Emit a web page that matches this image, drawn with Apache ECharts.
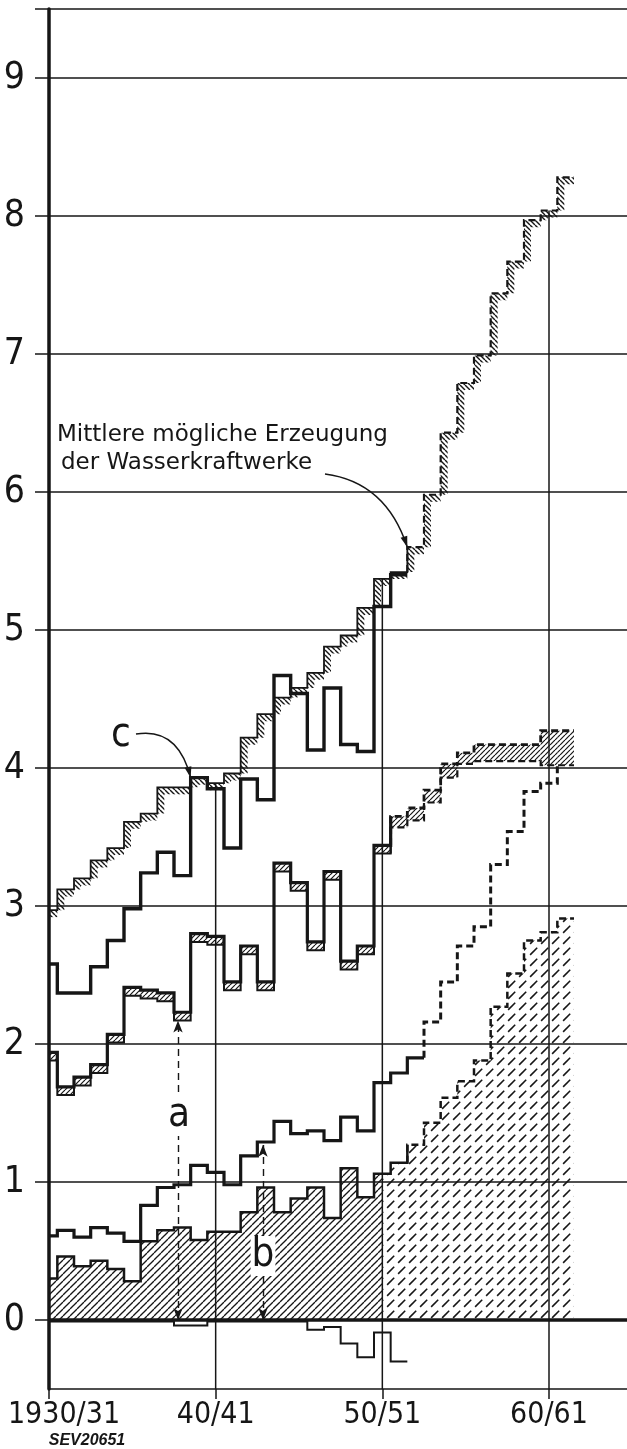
<!DOCTYPE html>
<html><head><meta charset="utf-8">
<script src="https://cdn.jsdelivr.net/npm/echarts@6/dist/echarts.min.js"></script>
<style>html,body{margin:0;padding:0;background:#fff}#c{width:627px;height:1449px}</style>
</head><body><div id="c"></div>
<script>
// index i = hydrological year 1930/31 + i (value holds from i-0.5 to i+0.5)
const xTickValues = [0, 10, 20, 30];
const xTickLabels = ['1930/31', '40/41', '50/51', '60/61'];
const yTickValues = [0, 1, 2, 3, 4, 5, 6, 7, 8, 9];
const yTickLabels = ['0', '1', '2', '3', '4', '5', '6', '7', '8', '9'];

// Mittlere mögliche Erzeugung der Wasserkraftwerke (upper hatched staircase)
const upperH = [2.97,3.12,3.20,3.33,3.42,3.61,3.67,3.86,3.86,3.93,3.89,3.96,4.22,4.39,4.51,4.58,4.69,4.88,4.96,5.16,5.37,5.42,5.60,5.98,6.43,6.79,6.99,7.44,7.67,7.97,8.04,8.28];
// curve c
const curveC = [2.58,2.37,2.37,2.56,2.75,2.98,3.24,3.39,3.22,3.93,3.85,3.42,3.92,3.77,4.67,4.54,4.13,4.58,4.17,4.12,5.17,5.40];
// middle curve (top and bottom of the small hatched band)
const midTop = [1.94,1.69,1.76,1.85,2.07,2.41,2.39,2.37,2.23,2.80,2.78,2.45,2.71,2.45,3.31,3.17,2.74,3.25,2.60,2.71,3.44,3.65,3.71,3.84,4.03,4.11,4.17,4.17,4.17,4.17,4.27,4.27];
const midBot = [1.88,1.63,1.70,1.79,2.01,2.35,2.33,2.31,2.17,2.74,2.72,2.39,2.65,2.39,3.25,3.11,2.68,3.19,2.54,2.65,3.38,3.57,3.62,3.75,3.93,4.03,4.05,4.05,4.05,4.05,4.02,4.02];
// lower line (solid, later dashed)
const lowerL = [0.61,0.65,0.60,0.67,0.63,0.57,0.83,0.96,0.98,1.12,1.07,0.98,1.19,1.29,1.44,1.35,1.37,1.30,1.47,1.37,1.72,1.79,1.90,2.16,2.45,2.71,2.85,3.30,3.54,3.83,3.89,4.02];
// hatched area from zero
const areaB = [0.30,0.46,0.39,0.43,0.37,0.28,0.57,0.65,0.67,0.58,0.64,0.64,0.78,0.96,0.78,0.88,0.96,0.74,1.10,0.89,1.06,1.14,1.27,1.43,1.61,1.73,1.88,2.27,2.51,2.75,2.81,2.91];
// negative line below zero
const negN = [-0.01,-0.01,-0.01,-0.01,-0.01,-0.01,-0.01,-0.01,-0.04,-0.04,-0.01,-0.01,-0.01,-0.01,-0.01,-0.01,-0.07,-0.05,-0.17,-0.27,-0.09,-0.30];

const INK = '#161616';
const LAB = '"DejaVu Sans Condensed","DejaVu Sans",sans-serif';
const ANN = '"DejaVu Sans",sans-serif';

function hatch(size, dir, lw, dash) {
  const cv = document.createElement('canvas');
  cv.width = cv.height = size;
  const g = cv.getContext('2d');
  g.strokeStyle = INK; g.lineWidth = lw;
  const ks = dash ? [0] : [-1, 0, 1];
  if (dash) { g.setLineDash(dash); g.lineDashOffset = -3; }
  ks.forEach(k => {
    g.beginPath();
    if (dir === '/') { g.moveTo(k * size, size); g.lineTo(k * size + size, 0); }
    else { g.moveTo(k * size, 0); g.lineTo(k * size + size, size); }
    g.stroke();
  });
  return { image: cv, repeat: 'repeat' };
}
const patSolid = hatch(7, '/', 1.3);
const patDash = hatch(11, '/', 1.6, [10, 5.56]);
const patBand = hatch(5, '\\', 1.4);
const patBox = hatch(5, '/', 1.2);

function steps(vals, x0, x1, startRiser, endRiser) {
  const out = []; let last = -1, lastB = 0;
  for (let i = 0; i < vals.length; i++) {
    const a = Math.max(i - 0.5, x0), b = Math.min(i + 0.5, x1);
    if (b <= a) continue;
    if (!out.length && startRiser && i > 0 && Math.abs(a - (i - 0.5)) < 1e-9) out.push([a, vals[i - 1]]);
    out.push([a, vals[i]], [b, vals[i]]);
    last = i; lastB = b;
  }
  if (endRiser && last + 1 < vals.length && Math.abs(lastB - (last + 0.5)) < 1e-9) out.push([lastB, vals[last + 1]]);
  return out;
}

function lineS(data, width, dashed, z) {
  return { type: 'line', data, symbol: 'none', silent: true, z: z || 5,
    lineStyle: { color: INK, width, type: dashed ? [7, 4] : 'solid', cap: 'butt', join: 'miter' } };
}
function areaS(data, pat) {
  return { type: 'line', data, symbol: 'none', silent: true, z: 2,
    lineStyle: { width: 0 }, areaStyle: { color: pat, opacity: 1 } };
}

const chart = echarts.init(document.getElementById('c'), null, { renderer: 'canvas' });

const gridLines = yTickValues.concat([9.5]).map(v => ({
  yAxis: v, lineStyle: { width: v === 0 ? 3.5 : 1.5, color: INK, type: 'solid' } }));

const series = [
  { type: 'line', data: [], silent: true, z: 1,
    markLine: { silent: true, symbol: 'none', label: { show: false }, animation: false, data: gridLines } },
  areaS(steps(areaB, 0, 20), patSolid),
  areaS(steps(areaB, 20, 31.5), patDash),
  // vertical rules at 40/41, 50/51, 60/61 from the upper curve down
  ...[10, 20, 30].map(x => lineS([[x, upperH[x]], [x, -0.5]], 1.5, false, 3)),
  lineS(steps(areaB, 0, 21.5, false, true), 2.5),
  lineS(steps(areaB, 21.5, 31.5, true), 2.5, true),
  lineS(steps(lowerL, 0, 22.5, false, false), 3.2),
  lineS(steps(lowerL, 22.5, 30.5, true, true), 3, true),
  { type: 'custom', silent: true, z: 4, data: midTop.map((v, i) => [i, v, midBot[i]]),
    renderItem: (p, api) => {
      const i = api.value(0), xl = Math.max(i - 0.5, 0), xr = i + 0.5;
      const a = api.coord([xl, api.value(1)]), b = api.coord([xr, api.value(2)]);
      return { type: 'rect', shape: { x: a[0], y: a[1], width: b[0] - a[0], height: b[1] - a[1] },
        style: { fill: patBox } };
    } },
  lineS(steps(midBot, 0, 20.5, false, true), 2),
  lineS(steps(midBot, 20.5, 31.5, true), 2.2, true),
  lineS(steps(midTop, 0, 20.5, false, true), 3.2),
  lineS(steps(midTop, 20.5, 31.5, true), 2.8, true),
  { type: 'custom', silent: true, z: 4, data: upperH.map((v, i) => [i, v, i > 0 ? upperH[i - 1] : v]),
    renderItem: (p, api) => {
      const i = api.value(0), v = api.value(1), prev = api.value(2);
      const xl = Math.max(i - 0.5, 0), xr = i + 0.5, d = 7;
      const a = api.coord([xl, v]), b = api.coord([xr, v]), q = api.coord([xl, prev]);
      let pts;
      if (q[1] > a[1] + 0.5) pts = [[a[0], a[1]], [b[0], b[1]], [b[0], b[1] + d], [a[0] + d, a[1] + d], [a[0] + d, q[1]], [a[0], q[1]]];
      else pts = [[a[0], a[1]], [b[0], b[1]], [b[0], b[1] + d], [a[0], a[1] + d]];
      return { type: 'polygon', shape: { points: pts }, style: { fill: patBand } };
    } },
  lineS(steps(upperH, 0, 21.5, false, true), 1.8),
  lineS(steps(upperH, 21.5, 31.5, true), 2.2, true),
  lineS(steps(curveC, 0, 21.5), 3.4, false, 6),
  lineS(steps(negN, 0, 21.5), 2),
  { type: 'line', data: [], silent: true, z: 6,
    markLine: { silent: true, animation: false, symbol: ['arrow', 'arrow'], symbolSize: [7, 12],
      label: { show: false },
      lineStyle: { color: INK, width: 1.4, type: [7, 5] },
      data: [
        [{ coord: [7.74, 0] }, { coord: [7.74, midBot[8]] }],
        [{ coord: [12.84, 0] }, { coord: [12.84, lowerL[13] - 0.02] }]
      ] } }
];

chart.setOption({
  animation: false,
  backgroundColor: '#fff',
  grid: { left: 49, right: 0, top: 9, bottom: 60, containLabel: false, outerBoundsMode: 'none' },
  xAxis: {
    type: 'value', min: 0, max: 34.68,
    axisLine: { onZero: false, lineStyle: { color: INK, width: 1.5 } },
    axisTick: { customValues: xTickValues, length: 10, lineStyle: { color: INK, width: 1.5 } },
    splitLine: { show: false },
    axisLabel: { customValues: xTickValues, margin: 11, color: INK, fontFamily: LAB, fontSize: 30, lineHeight: 30,
      hideOverlap: false,
      formatter: v => { const k = xTickValues.indexOf(v); return k === 0 ? '{f|' + xTickLabels[0] + '}' : (k > 0 ? xTickLabels[k] : ''); },
      rich: { f: { fontFamily: LAB, fontSize: 30, lineHeight: 30, color: INK, padding: [0, 0, 0, 30] } } }
  },
  yAxis: {
    type: 'value', min: -0.5, max: 9.5,
    axisLine: { show: true, lineStyle: { color: INK, width: 3.5 } },
    axisTick: { show: true, customValues: yTickValues.concat([9.5]), length: 14, lineStyle: { color: INK, width: 1.5 } },
    splitLine: { show: false },
    axisLabel: { customValues: yTickValues, margin: 24, color: INK, fontFamily: LAB, fontSize: 37,
      padding: [6, 0, 0, 0], formatter: v => yTickLabels[yTickValues.indexOf(v)] }
  },
  series
});

function px(x, y) { return chart.convertToPixel({ gridIndex: 0 }, [x, y]); }
function arrow(S, C, E) {
  const dx = E[0] - C[0], dy = E[1] - C[1], L = Math.hypot(dx, dy), ux = dx / L, uy = dy / L;
  const bx = E[0] - ux * 11, by = E[1] - uy * 11;
  return [
    { type: 'bezierCurve', silent: true, z: 20, shape: { x1: S[0], y1: S[1], x2: E[0], y2: E[1], cpx1: C[0], cpy1: C[1] },
      style: { stroke: INK, lineWidth: 1.5, fill: null } },
    { type: 'polygon', silent: true, z: 20, shape: { points: [E, [bx - uy * 3.5, by + ux * 3.5], [bx + uy * 3.5, by - ux * 3.5]] },
      style: { fill: INK } }
  ];
}
const tipC = px(8.5, curveC[9]);
const tipH = px(21.5, upperH[22]);
const txt = (t, x, y, font, size, extra) => Object.assign({ type: 'text', silent: true, z: 21, x, y,
  style: Object.assign({ text: t, fontFamily: font, fontSize: size, fill: INK, align: 'center', verticalAlign: 'middle' }, extra || {}) });

chart.setOption({ graphic: [
  txt('Mittlere mögliche Erzeugung', 57, 435, ANN, 23, { align: 'left' }),
  txt('der Wasserkraftwerke', 61, 463, ANN, 23, { align: 'left' }),
  ...arrow([325, 474], [386, 482], tipH),
  txt('c', 121, 736, LAB, 40),
  ...arrow([136, 734], [178, 727], tipC),
  txt('a', 179, 1116, LAB, 40, { backgroundColor: '#fff', padding: [0, 1] }),
  txt('b', 263, 1256, LAB, 40, { backgroundColor: '#fff', padding: [0, 1] }),
  txt('SEV20651', 87, 1441, '"Liberation Sans","DejaVu Sans",sans-serif', 16, { fontWeight: 'bold', fontStyle: 'italic' })
] });
</script></body></html>
